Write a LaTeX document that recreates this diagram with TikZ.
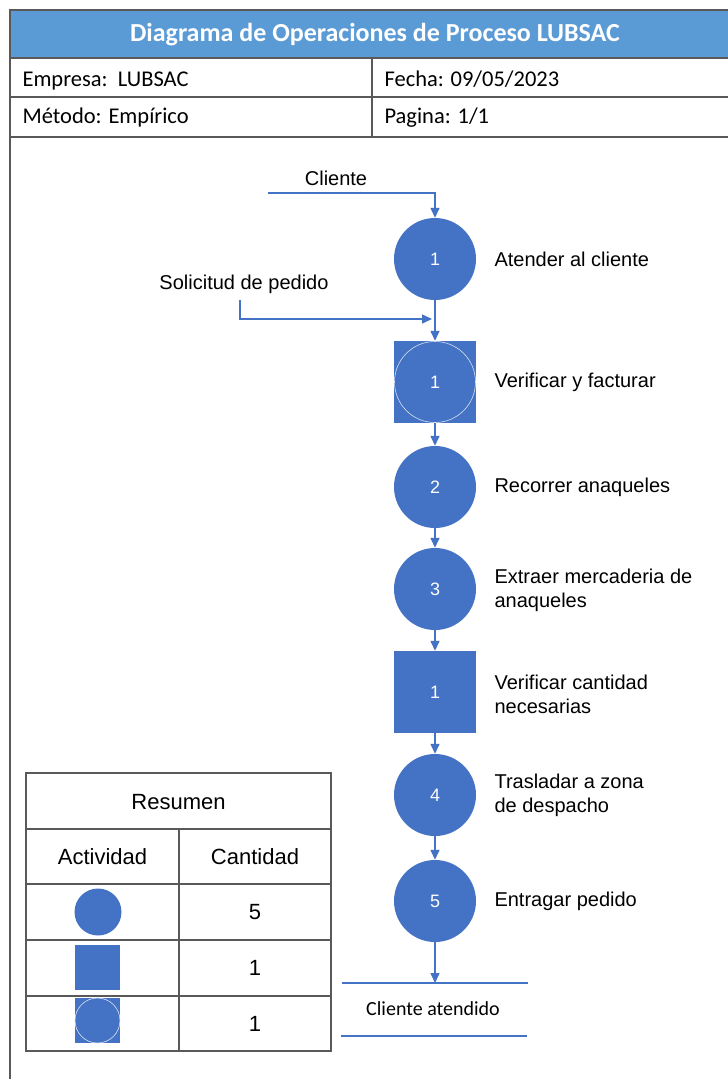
\documentclass[tikz,border=0pt]{standalone}
\usepackage{fontspec}
\setmainfont{Liberation Sans}
\newfontfamily\calibri{Carlito}
\usetikzlibrary{arrows.meta}
\definecolor{opblue}{HTML}{4472C4}
\definecolor{headblue}{HTML}{5B9BD5}
\definecolor{rule}{HTML}{595959}
\tikzset{
  frameline/.style={draw=rule, line width=1.4pt},
  gridline/.style={draw=rule, line width=1.1pt},
  opcircle/.style={circle, fill=opblue, minimum size=82pt, inner sep=0pt,
    text=white, font=\fontsize{18}{20}\selectfont},
  opsquare/.style={rectangle, fill=opblue, minimum size=82pt, inner sep=0pt,
    text=white, font=\fontsize{18}{20}\selectfont},
  flow/.style={draw=opblue, line width=1.4pt, -{Triangle[length=10pt,width=9pt]}},
  plainflow/.style={draw=opblue, line width=1.4pt},
  steplabel/.style={anchor=west, align=left, font=\fontsize{20}{24}\selectfont},
  celltext/.style={anchor=base west, font=\calibri\fontsize{22.5}{26}\selectfont},
  sumtext/.style={font=\fontsize{22}{26}\selectfont},
}
\begin{document}
\begin{tikzpicture}[x=1pt, y=-1pt]
\useasboundingbox (0,0) rectangle (728,1079);
\fill[white] (0,0) rectangle (728,1079);

% header band and form grid
\fill[headblue] (10,10) rectangle (740,58);
\node[text=white, font=\calibri\bfseries\fontsize{26}{30}\selectfont] (title) at (375,35) {Diagrama de Operaciones de Proceso LUBSAC};
\draw[frameline] (10,1085) -- (10,10) -- (740,10);
\draw[gridline] (10,58) -- (740,58);
\draw[gridline] (10,97) -- (740,97);
\draw[gridline] (10,137) -- (740,137);
\draw[gridline] (372,58) -- (372,137);
\node[celltext] (empresa) at (19,86) {Empresa:\ \ LUBSAC};
\node[celltext] (fecha) at (381,86) {Fecha: 09/05/2023};
\node[celltext] (metodo) at (19,123.5) {Método: Empírico};
\node[celltext] (pagina) at (381,123.5) {Pagina: 1/1};

% process chart
\node[opcircle] (c1) at (435,259) {1};
\node[opsquare] (s1) at (435,382) {};
\draw[white!80!opblue, line width=0.6pt] (s1.center) circle (40.5pt);
\node[text=white, font=\fontsize{18}{20}\selectfont] (s1num) at (s1.center) {1};
\node[opcircle] (c2) at (435,487) {2};
\node[opcircle] (c3) at (435,589) {3};
\node[opsquare] (s2) at (435,692) {1};
\node[opcircle] (c4) at (435,795) {4};
\node[opcircle] (c5) at (435,901) {5};

\node[steplabel] (l1) at (491,259) {Atender al cliente};
\node[steplabel] (l2) at (491,382) {Verificar y facturar};
\node[steplabel] (l3) at (491,487) {Recorrer anaqueles};
\node[steplabel] (l4) at (491,590) {Extraer mercaderia de\\anaqueles};
\node[steplabel] (l5) at (491,694) {Verificar cantidad\\necesarias};
\node[steplabel] (l6) at (491,795) {Trasladar a zona\\de despacho};
\node[steplabel] (l7) at (491,901) {Entragar pedido};

% inputs
\node[font=\fontsize{20}{24}\selectfont] (cliente) at (336,178) {Cliente};
\coordinate (clstart) at (268,193);
\draw[flow] (clstart) -| (c1.north);
\node[font=\fontsize{20}{24}\selectfont] (solicitud) at (244,284) {Solicitud de pedido};
\coordinate (solstart) at (240,300);
\coordinate (soljoin) at (432,319);
\draw[flow] (solstart) |- (soljoin);

% flow between operations
\draw[flow] (c1) -- (s1);
\draw[flow] (s1) -- (c2);
\draw[flow] (c2) -- (c3);
\draw[flow] (c3) -- (s2);
\draw[flow] (s2) -- (c4);
\draw[flow] (c4) -- (c5);

% output
\coordinate (outtop) at (435,983);
\draw[flow] (c5) -- (outtop);
\coordinate (outla) at (342,983);
\coordinate (outra) at (528,983);
\coordinate (outlb) at (341,1036);
\coordinate (outrb) at (527,1036);
\draw[plainflow] (outla) -- (outra);
\draw[plainflow] (outlb) -- (outrb);
\node[font=\calibri\fontsize{20}{24}\selectfont] (fin) at (433,1009) {Cliente atendido};

% summary table
\draw[gridline] (26,773) rectangle (331,1051);
\draw[gridline] (26,829) -- (331,829);
\draw[gridline] (26,884) -- (331,884);
\draw[gridline] (26,940) -- (331,940);
\draw[gridline] (26,996) -- (331,996);
\draw[gridline] (179,829) -- (179,1051);
\node[sumtext] (resumen) at (178.5,802) {Resumen};
\node[sumtext] (actividad) at (102.5,857) {Actividad};
\node[sumtext] (cantidad) at (255,857) {Cantidad};
\node[circle, fill=opblue, minimum size=47pt, inner sep=0pt] (iconop) at (98,912) {};
\node[rectangle, fill=opblue, minimum size=45pt, inner sep=0pt] (iconin) at (97.5,967) {};
\node[rectangle, fill=opblue, minimum size=45pt, inner sep=0pt] (iconcomb) at (97.5,1020.5) {};
\draw[white!80!opblue, line width=0.6pt] (iconcomb.center) circle (22.5pt);
\node[sumtext] (nop) at (255,912) {5};
\node[sumtext] (nin) at (255,968) {1};
\node[sumtext] (ncomb) at (255,1024) {1};
\end{tikzpicture}
\end{document}
